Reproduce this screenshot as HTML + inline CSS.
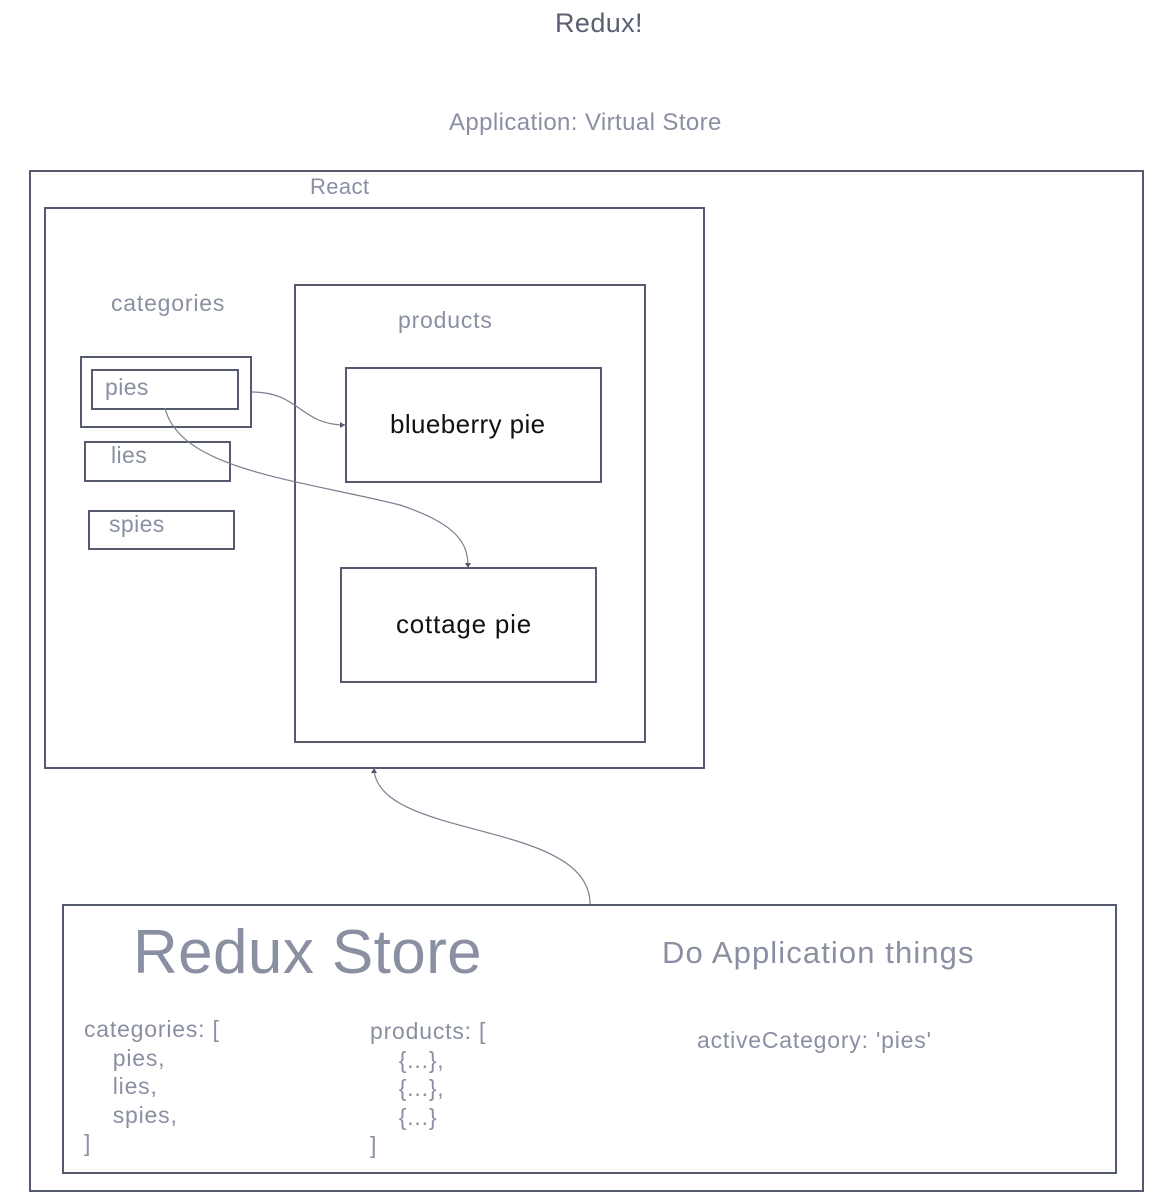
<!DOCTYPE html>
<html><head><style>
body{margin:0;width:1173px;height:1204px;background:#fff;position:relative;font-family:"Liberation Sans",sans-serif;overflow:hidden}
.b{position:absolute;border:2px solid #555a6e;box-sizing:border-box}
.t{position:absolute;color:#8a8fa2;white-space:pre;line-height:1;letter-spacing:0.4px}
</style></head><body>
<div class="t" style="left:555px;top:10px;font-size:27px;color:#5a5f72">Redux!</div>
<div class="t" style="left:449px;top:111px;font-size:24px">Application: Virtual Store</div>
<div class="b" style="left:29px;top:170px;width:1115px;height:1022px"></div>
<div class="t" style="left:310px;top:176px;font-size:22px">React</div>
<div class="b" style="left:44px;top:207px;width:661px;height:562px"></div>
<div class="t" style="left:111px;top:292px;font-size:23px;letter-spacing:0.8px">categories</div>
<div class="b" style="left:294px;top:284px;width:352px;height:459px"></div>
<div class="t" style="left:398px;top:309px;font-size:23px;letter-spacing:0.8px">products</div>
<div class="b" style="left:80px;top:356px;width:172px;height:72px"></div>
<div class="b" style="left:91px;top:369px;width:148px;height:41px"></div>
<div class="t" style="left:105px;top:376px;font-size:23px">pies</div>
<div class="b" style="left:84px;top:441px;width:147px;height:41px"></div>
<div class="t" style="left:111px;top:444px;font-size:23px">lies</div>
<div class="b" style="left:88px;top:510px;width:147px;height:40px"></div>
<div class="t" style="left:109px;top:513px;font-size:23px">spies</div>
<div class="b" style="left:345px;top:367px;width:257px;height:116px"></div>
<div class="t" style="left:390px;top:411px;font-size:26px;color:#111">blueberry pie</div>
<div class="b" style="left:340px;top:567px;width:257px;height:116px"></div>
<div class="t" style="left:396px;top:611px;font-size:26px;color:#111;letter-spacing:0.8px">cottage pie</div>
<div class="b" style="left:62px;top:904px;width:1055px;height:270px"></div>
<div class="t" style="left:133px;top:922px;font-size:62px">Redux Store</div>
<div class="t" style="left:662px;top:937px;font-size:31px;letter-spacing:1.1px">Do Application things</div>
<div class="t" style="left:84px;top:1015px;font-size:23px;line-height:28.5px;letter-spacing:0.8px">categories: [
    pies,
    lies,
    spies,
]</div>
<div class="t" style="left:370px;top:1017px;font-size:23px;line-height:28.5px;letter-spacing:0.8px">products: [
    {...},
    {...},
    {...}
]</div>
<div class="t" style="left:697px;top:1029px;font-size:23px;letter-spacing:0.8px">activeCategory: 'pies'</div>
<svg style="position:absolute;left:0;top:0" width="1173" height="1204">
<g fill="none" stroke="#7a7f90" stroke-width="1.2">
<path d="M252,392 C300,392 300,425 345,425"/>
<path d="M165,408 C180,470 300,480 400,505 C460,525 468,545 468,567"/>
<path d="M590,904 C590,820 380,840 374,770"/>
</g>
<g fill="#555a6e">
<path d="M345,425 l-5,-3 v6z"/>
<path d="M468,568 l-3,-5 h6z"/>
<path d="M374,768 l-3,5 h6z"/>
</g>
</svg>
</body></html>
